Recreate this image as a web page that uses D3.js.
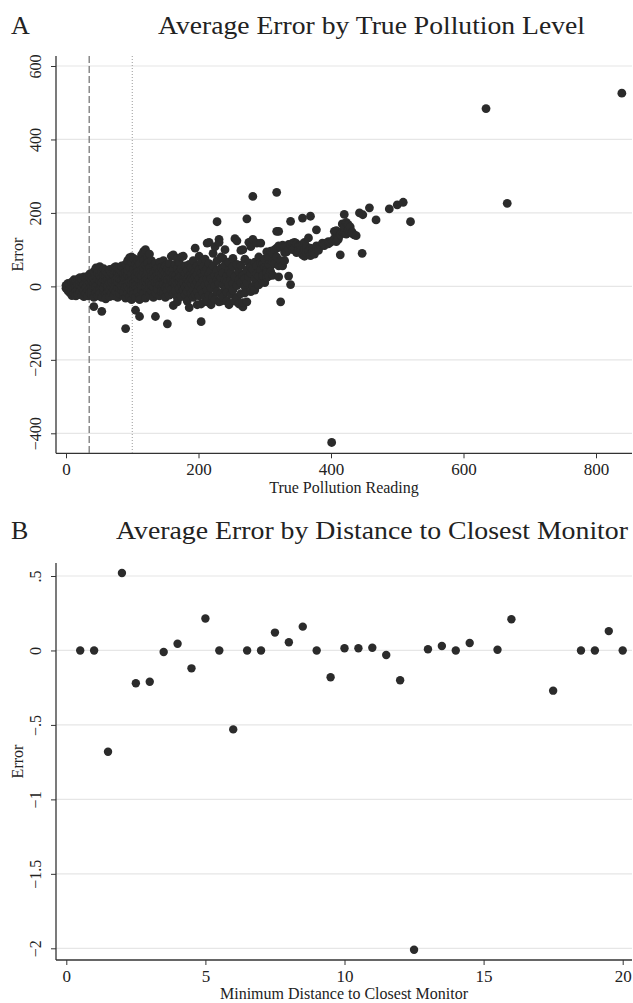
<!DOCTYPE html>
<html>
<head>
<meta charset="utf-8">
<script src="https://cdn.jsdelivr.net/npm/d3@7/dist/d3.min.js"></script>
<style>
  html, body { margin: 0; padding: 0; background: #fff; }
  svg { display: block; }
  text { font-family: "Liberation Serif", "DejaVu Serif", serif; fill: #222; }
</style>
</head>
<body>
<svg id="fig" width="633" height="1003"></svg>
<script>
// ---- Panel A: average error by true pollution level ----
// each row: true reading, then the errors observed at that reading
const errorByReading = [
  [0, -5, 3], [3, -12, 0, 8], [6, -8, 5, -18], [9, -15, 2, 12, -25],
  [12, -6, 10, -20, 18], [15, 0, -14, 15, -26], [18, -8, 6, 20, -22],
  [21, 2, -16, 14, 24], [24, -4, -24, 10, 20], [27, 6, -12, 26, -28],
  [30, -2, 14, -20, 22], [33, 4, -10, 18, -26, 28], [36, -6, 10, -18, 24, 34],
  [39, 0, -24, 16, 30, -12], [42, 8, -4, 22, -30, 40, -55], [45, -16, 12, 28, 50, -2],
  [48, 4, -26, 20, 44, -10, 36], [51, -8, 14, 30, 54, -20], [54, 2, -30, 24, 40, -68, 10],
  [57, -14, 18, 48, -4, 32], [60, 6, -22, 26, 42, -34, 14], [63, -6, 20, 36, -16, 2],
  [66, 10, -28, 30, 46, -10], [69, 0, 22, -18, 38, 12], [72, -8, 16, 50, -26, 30],
  [75, 4, 28, -14, 42, 54, 18], [78, -4, 12, 36, -30, 24, 50], [81, 8, -20, 30, 46, -6, 20],
  [84, -10, 18, 40, 2, 56], [87, 6, -26, 26, 48, -14, 34], [90, -2, 14, 38, -32, 60, -115, 24],
  [93, 10, -18, 30, 70, 0, 44], [96, -6, 22, 52, -28, 78, 12], [99, 4, -12, 34, 66, 16, -36, 80],
  [102, -8, 20, 46, 76, 8, -22], [105, 14, -30, 36, 60, -65, 28, 2], [108, -4, 24, 52, 72, -16, 40],
  [111, 6, -26, 32, 62, 18, -36, -82], [114, -10, 16, 44, 86, 28, 2], [117, 10, -20, 36, 70, 95, 52],
  [120, -2, 26, 58, -32, 100, 14], [123, 8, -14, 40, 78, 20, 64], [126, -6, 30, 50, 88, -24, 12],
  [129, 16, -12, 40, 70, 4, 28], [132, -2, 22, 56, -30, 36], [135, 10, -18, 44, 62, -82, 26],
  [138, 0, 30, -8, 50, 18], [141, 12, -26, 38, 66, 4], [144, -6, 24, 52, -14, 34],
  [147, 14, -16, 44, 70, 6, 28], [150, -4, 20, 56, -30, 36], [153, 8, -102, 30, 48, -12, 18],
  [156, 0, 26, 62, -24, 40], [159, 14, -8, 36, 82, 22], [162, -20, 10, 46, 86, -52, 30],
  [165, 4, 28, 60, -12, 16], [168, -30, 20, 50, 76, 8, -42], [171, 12, 38, -6, 64, 26],
  [174, -18, 30, 80, 4, 48, -28], [177, 18, -10, 40, 82, 10], [180, -22, 26, 56, 0, 36],
  [183, 8, -40, 44, 20, -14], [186, 30, -58, 14, 60, -4], [189, -20, 36, 8, 52, 22],
  [192, -30, 18, 44, -10, 70], [195, 4, 40, -22, 26, 104], [198, 12, -14, 56, 32, -50],
  [201, -26, 22, 82, 0, 46], [204, 10, -48, 36, -96, 66, -8], [207, 28, -18, 54, 16],
  [210, -30, 4, 40, 74], [213, 20, -10, 118, 48, -42], [216, 34, -24, 8, 62, 120],
  [219, -50, 22, 44, -4], [222, 12, 90, -28, 56], [225, 30, -36, 108, 2],
  [228, 176, -14, 44, 70, 18], [231, -42, 8, 30, 128, 120], [234, 24, -20, 80, 50, -40],
  [237, 4, 76, 36, -30], [240, 58, -8, 18, 100], [243, -40, 28, 12, -16],
  [246, 44, 4, -50, 66], [249, 20, -22, 36], [252, 8, 76, 54, -10], [255, 130, -40, 26],
  [258, 124, 2, 60, -30], [261, 40, -48, 18], [264, 98, 10, -20, 58], [267, -56, 30, 100, -44],
  [270, 0, 22, 74, -18], [273, 184, 44, -42, 10], [276, 64, 26, 120], [279, -14, 36, 108, 54],
  [282, 245, 128, 46, 0], [285, 20, -10, 66], [288, 56, 118, 34], [291, 28, 80, 4],
  [294, 118, 44, 64], [297, 14, 62, 30], [300, 10, 52, 74], [303, 24, 46, 94, 38],
  [306, 78, 28, 60], [309, 56, 96, 40], [312, 90, 68, 30], [315, 100, 62],
  [318, 256, 150, 80, 104], [321, 26, 110, 150, 56], [324, -42, 106, 70], [327, 56, 112],
  [330, 92, 108, 70], [333, 110, 94], [336, 114, 102, 28], [339, 5, 177, 112],
  [342, 118, 100], [345, 120, 104], [348, 116, 92], [351, 110, 98], [354, 100, 112],
  [357, 186, 114, 86], [360, 82, 100, 120], [363, 108, 92], [366, 132, 96],
  [369, 191, 84, 104], [372, 100, 92], [375, 96, 88], [378, 154, 110], [381, 104, 98],
  [384, 110], [387, 112, 118], [390, 111, 116], [393, 118], [396, 116, 122], [399, 120],
  [401, -425], [402, 124], [405, 130, 150], [408, 152, 122], [411, 134, 128], [414, 86, 140],
  [417, 170, 150], [420, 196, 160, 146], [423, 174, 142], [426, 168, 152], [429, 150, 162],
  [432, 148, 144], [435, 140], [438, 138], [443, 200], [447, 90], [448, 195], [458, 214],
  [468, 181], [488, 211], [500, 222], [509, 229], [520, 176],
  [634, 484], [666, 226], [839, 526]
];
const readingTicks = [0, 200, 400, 600, 800];
const errorTicksA = [-400, -200, 0, 200, 400, 600];
const thresholdDashed = 35;   // first reference level
const thresholdDotted = 100;  // second reference level

// ---- Panel B: average error by distance to closest monitor ----
const distance = [0.5, 1, 1.5, 2, 2.5, 3, 3.5, 4, 4.5, 5, 5.5, 6, 6.5, 7, 7.5, 8, 8.5, 9,
  9.5, 10, 10.5, 11, 11.5, 12, 12.5, 13, 13.5, 14, 14.5, 15.5, 16, 17.5, 18.5, 19, 19.5, 20];
const distanceError = [0, 0, -0.68, 0.52, -0.22, -0.21, -0.01, 0.045, -0.12, 0.215, 0, -0.53,
  0, 0, 0.12, 0.055, 0.16, 0, -0.18, 0.015, 0.015, 0.018, -0.03, -0.2, -2.01, 0.008, 0.03,
  0, 0.05, 0.005, 0.21, -0.27, 0, 0, 0.13, 0];
const distanceTicks = [0, 5, 10, 15, 20];
const errorTicksB = [-2, -1.5, -1, -0.5, 0, 0.5];
const errorTickLabelsB = ["\u22122", "\u22121.5", "\u22121", "\u2212.5", "0", ".5"];

const svg = d3.select("#fig");
const AXIS = "#333", GRID = "#e6e6e6", DOT = "#2b2b2b";

function panel(cfg) {
  const g = svg.append("g");
  const { x, y, left, right, top, bottom } = cfg;

  // horizontal gridlines
  g.append("g").selectAll("line").data(cfg.yTicks).join("line")
    .attr("x1", left).attr("x2", right)
    .attr("y1", d => y(d)).attr("y2", d => y(d))
    .attr("stroke", GRID).attr("stroke-width", 1.2);

  // y axis ticks + rotated labels
  const ya = g.append("g").attr("transform", `translate(${left},0)`)
    .call(d3.axisLeft(y).tickValues(cfg.yTicks).tickSize(5).tickFormat(cfg.yFormat));
  ya.select(".domain").remove();
  ya.selectAll(".tick line").attr("stroke", AXIS);
  ya.selectAll(".tick text")
    .attr("x", null).attr("dy", null)
    .attr("transform", "translate(-15,0) rotate(-90)")
    .attr("text-anchor", "middle")
    .style("font-family", '"Liberation Serif", serif')
    .style("font-size", "16px").attr("fill", "#222");

  // x axis ticks + labels
  const xa = g.append("g").attr("transform", `translate(0,${bottom})`)
    .call(d3.axisBottom(x).tickValues(cfg.xTicks).tickSize(5).tickFormat(d3.format("d")));
  xa.select(".domain").remove();
  xa.selectAll(".tick line").attr("stroke", AXIS);
  xa.selectAll(".tick text").attr("y", 22).attr("dy", null)
    .style("font-family", '"Liberation Serif", serif')
    .style("font-size", "17px").attr("fill", "#222");

  // axis lines
  g.append("line").attr("x1", left).attr("x2", left).attr("y1", top).attr("y2", bottom)
    .attr("stroke", AXIS).attr("stroke-width", 1.3);
  g.append("line").attr("x1", left).attr("x2", right).attr("y1", bottom).attr("y2", bottom)
    .attr("stroke", AXIS).attr("stroke-width", 1.3);

  // axis titles
  g.append("text").attr("x", (left + right) / 2).attr("y", bottom + cfg.xTitleGap)
    .attr("text-anchor", "middle").style("font-size", "16px").text(cfg.xTitle);
  g.append("text")
    .attr("transform", `translate(23,${(top + bottom) / 2}) rotate(-90)`)
    .attr("text-anchor", "middle").style("font-size", "16px").text("Error");

  // panel letter and title
  g.append("text").attr("x", 11).attr("y", top - cfg.titleGap)
    .style("font-size", "26px").text(cfg.letter);
  g.append("text").attr("x", cfg.titleX).attr("y", top - cfg.titleGap)
    .attr("textLength", cfg.titleW).attr("lengthAdjust", "spacingAndGlyphs")
    .style("font-size", "26px").text(cfg.title);

  return g;
}

// Panel A
const xA = d3.scaleLinear().domain([0, 800]).range([66, 596]);
const yA = d3.scaleLinear().domain([-400, 600]).range([433.3, 66]);
const gA = panel({
  x: xA, y: yA, left: 56, right: 632, top: 56, bottom: 453.3,
  xTicks: readingTicks, yTicks: errorTicksA, yFormat: d3.format("d"),
  xTitle: "True Pollution Reading", xTitleGap: 40,
  letter: "A", title: "Average Error by True Pollution Level",
  titleX: 158, titleW: 427, titleGap: 22
});
gA.append("line").attr("x1", xA(thresholdDashed)).attr("x2", xA(thresholdDashed))
  .attr("y1", 56).attr("y2", 453.3)
  .attr("stroke", "#6e6e6e").attr("stroke-width", 1.2).attr("stroke-dasharray", "7,3");
gA.append("line").attr("x1", xA(thresholdDotted)).attr("x2", xA(thresholdDotted))
  .attr("y1", 56).attr("y2", 453.3)
  .attr("stroke", "#9a9a9a").attr("stroke-width", 1).attr("stroke-dasharray", "1,2");

const pointsA = errorByReading.flatMap(([r, ...errs]) => errs.map(e => ({ r, e })));
gA.append("g").selectAll("circle").data(pointsA).join("circle")
  .attr("cx", d => xA(d.r)).attr("cy", d => yA(d.e)).attr("r", 4.4).attr("fill", DOT);

// Panel B
const xB = d3.scaleLinear().domain([0, 20]).range([66.3, 622.7]);
const yB = d3.scaleLinear().domain([-2, 0.5]).range([948.3, 576]);
const gB = panel({
  x: xB, y: yB, left: 56, right: 632, top: 563, bottom: 960,
  xTicks: distanceTicks, yTicks: errorTicksB,
  yFormat: d => errorTickLabelsB[errorTicksB.indexOf(d)],
  xTitle: "Minimum Distance to Closest Monitor", xTitleGap: 39,
  letter: "B", title: "Average Error by Distance to Closest Monitor",
  titleX: 116, titleW: 512, titleGap: 24
});
gB.append("g").selectAll("circle").data(distance.map((d, i) => ({ d, e: distanceError[i] })))
  .join("circle")
  .attr("cx", p => xB(p.d)).attr("cy", p => yB(p.e)).attr("r", 4.2).attr("fill", DOT);
</script>
</body>
</html>
